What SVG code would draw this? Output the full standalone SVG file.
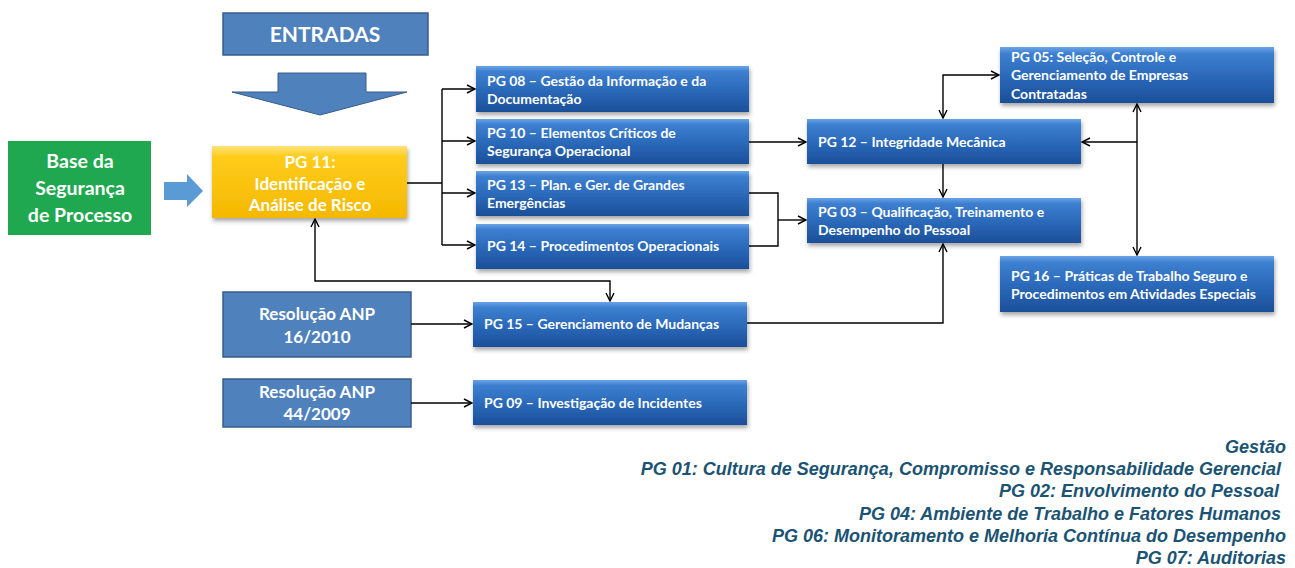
<svg xmlns="http://www.w3.org/2000/svg" width="1295" height="568" viewBox="0 0 1295 568">
<defs>
<linearGradient id="gBlue" x1="0" y1="0" x2="0" y2="1">
<stop offset="0" stop-color="#6aa4e6"/>
<stop offset="0.12" stop-color="#3d7fd0"/>
<stop offset="0.55" stop-color="#2a68b8"/>
<stop offset="1" stop-color="#1b4f99"/>
</linearGradient>
<linearGradient id="gYellow" x1="0" y1="0" x2="0" y2="1">
<stop offset="0" stop-color="#ffe27a"/>
<stop offset="0.15" stop-color="#ffcc1a"/>
<stop offset="1" stop-color="#f5b800"/>
</linearGradient>
<filter id="sh" x="-10%" y="-20%" width="120%" height="150%">
<feDropShadow dx="1" dy="3" stdDeviation="2" flood-color="#000" flood-opacity="0.35"/>
</filter>
<marker id="ah" viewBox="0 0 10 10" refX="9" refY="5" markerWidth="10" markerHeight="10" markerUnits="userSpaceOnUse" orient="auto-start-reverse">
<path d="M1,1 L9,5 L1,9" fill="none" stroke="#000" stroke-width="1.4"/>
</marker>
<style>
.bx{fill:url(#gBlue);filter:url(#sh);}
.fl{fill:#4f81bd;stroke:#385d8a;stroke-width:1.5;}
.t{font-family:Lato,"Liberation Sans",sans-serif;font-weight:bold;fill:#fff;font-size:14px;}
.tc{font-family:Lato,"Liberation Sans",sans-serif;font-weight:bold;fill:#fff;text-anchor:middle;}
.c{fill:none;stroke:#000;stroke-width:1.4;}
.g{font-family:"Liberation Sans",Arial,sans-serif;font-style:italic;font-weight:bold;font-size:18px;fill:#1a5373;text-anchor:end;}
</style>
</defs>

<g id="entradas">
<rect class="fl" x="223" y="13" width="205" height="42"/>
<text class="tc" x="325" y="42" font-size="21">ENTRADAS</text>
</g>
<g id="entradas-arrow">
<polygon points="278,73 366,73 366,92 407,92 320,115 232,92 278,92" fill="#4f81bd" stroke="#385d8a" stroke-width="1"/>
</g>

<g id="base">
<rect x="8" y="141" width="143" height="94" fill="#1fa84f"/>
<text class="tc" x="80" y="168" font-size="19.5">Base da</text>
<text class="tc" x="80" y="195" font-size="19.5">Segurança</text>
<text class="tc" x="80" y="222" font-size="19.5">de Processo</text>
</g>
<g id="base-arrow">
<polygon points="164,182 187,182 187,174 203,191 187,207 187,200 164,200" fill="#5b9bd5"/>
</g>

<g id="pg11">
<rect x="212" y="146" width="195" height="72" fill="url(#gYellow)" filter="url(#sh)"/>
<text class="tc" x="310" y="168" font-size="17">PG 11:</text>
<text class="tc" x="310" y="190" font-size="17">Identificação e</text>
<text class="tc" x="310" y="211" font-size="17">Análise de Risco</text>
</g>

<g id="pg08">
<rect class="bx" x="476" y="66" width="273" height="46"/>
<text class="t" x="487" y="86">PG 08 – Gestão da Informação e da</text>
<text class="t" x="487" y="104">Documentação</text>
</g>
<g id="pg10">
<rect class="bx" x="476" y="119" width="273" height="45"/>
<text class="t" x="487" y="138">PG 10 – Elementos Críticos de</text>
<text class="t" x="487" y="156">Segurança Operacional</text>
</g>
<g id="pg13">
<rect class="bx" x="476" y="171" width="273" height="45"/>
<text class="t" x="487" y="190">PG 13 – Plan. e Ger. de Grandes</text>
<text class="t" x="487" y="208">Emergências</text>
</g>
<g id="pg14">
<rect class="bx" x="476" y="224" width="273" height="45"/>
<text class="t" x="487" y="251">PG 14 – Procedimentos Operacionais</text>
</g>

<g id="pg12">
<rect class="bx" x="807" y="119" width="274" height="45"/>
<text class="t" x="818" y="147">PG 12 – Integridade Mecânica</text>
</g>
<g id="pg03">
<rect class="bx" x="807" y="198" width="274" height="45"/>
<text class="t" x="818" y="217">PG 03 – Qualificação, Treinamento e</text>
<text class="t" x="818" y="235">Desempenho do Pessoal</text>
</g>
<g id="pg05">
<rect class="bx" x="1000" y="47" width="274" height="56"/>
<text class="t" x="1011" y="62">PG 05: Seleção, Controle e</text>
<text class="t" x="1011" y="80">Gerenciamento de Empresas</text>
<text class="t" x="1011" y="99">Contratadas</text>
</g>
<g id="pg16">
<rect class="bx" x="1000" y="256" width="274" height="56"/>
<text class="t" x="1011" y="281">PG 16 – Práticas de Trabalho Seguro e</text>
<text class="t" x="1011" y="299">Procedimentos em Atividades Especiais</text>
</g>

<g id="res16">
<rect class="fl" x="223" y="292" width="188" height="65"/>
<text class="tc" x="317" y="320" font-size="17">Resolução ANP</text>
<text class="tc" x="317" y="343" font-size="17">16/2010</text>
</g>
<g id="res44">
<rect class="fl" x="223" y="379" width="188" height="48"/>
<text class="tc" x="317" y="398" font-size="17">Resolução ANP</text>
<text class="tc" x="317" y="420" font-size="17">44/2009</text>
</g>
<g id="pg15">
<rect class="bx" x="473" y="302" width="274" height="45"/>
<text class="t" x="484" y="329">PG 15 – Gerenciamento de Mudanças</text>
</g>
<g id="pg09">
<rect class="bx" x="473" y="380" width="274" height="45"/>
<text class="t" x="484" y="408">PG 09 – Investigação de Incidentes</text>
</g>

<g id="connectors">
<path class="c" d="M407,183 H442"/>
<path class="c" d="M442,89 V245"/>
<path class="c" d="M442,89 H475" marker-end="url(#ah)"/>
<path class="c" d="M442,141 H475" marker-end="url(#ah)"/>
<path class="c" d="M442,193 H475" marker-end="url(#ah)"/>
<path class="c" d="M442,245 H475" marker-end="url(#ah)"/>
<path class="c" d="M749,142 H806" marker-end="url(#ah)"/>
<path class="c" d="M749,193 H778 V246 H749"/>
<path class="c" d="M778,220 H806" marker-end="url(#ah)"/>
<path class="c" d="M943,118 V75 H999" marker-start="url(#ah)" marker-end="url(#ah)"/>
<path class="c" d="M943,164 V197" marker-end="url(#ah)"/>
<path class="c" d="M1137,104 V255" marker-start="url(#ah)" marker-end="url(#ah)"/>
<path class="c" d="M1137,142 H1082" marker-end="url(#ah)"/>
<path class="c" d="M315,219 V281 H610 V301" marker-start="url(#ah)" marker-end="url(#ah)"/>
<path class="c" d="M411,324 H472" marker-end="url(#ah)"/>
<path class="c" d="M747,323 H943 V244" marker-end="url(#ah)"/>
<path class="c" d="M411,403 H472" marker-end="url(#ah)"/>
</g>

<g id="gestao">
<text class="g" x="1286" y="453">Gestão</text>
<text class="g" x="1281" y="475">PG 01: Cultura de Segurança, Compromisso e Responsabilidade Gerencial</text>
<text class="g" x="1279" y="497">PG 02: Envolvimento do Pessoal</text>
<text class="g" x="1281" y="520">PG 04: Ambiente de Trabalho e Fatores Humanos</text>
<text class="g" x="1286" y="542">PG 06: Monitoramento e Melhoria Contínua do Desempenho</text>
<text class="g" x="1286" y="564">PG 07: Auditorias</text>
</g>
</svg>
